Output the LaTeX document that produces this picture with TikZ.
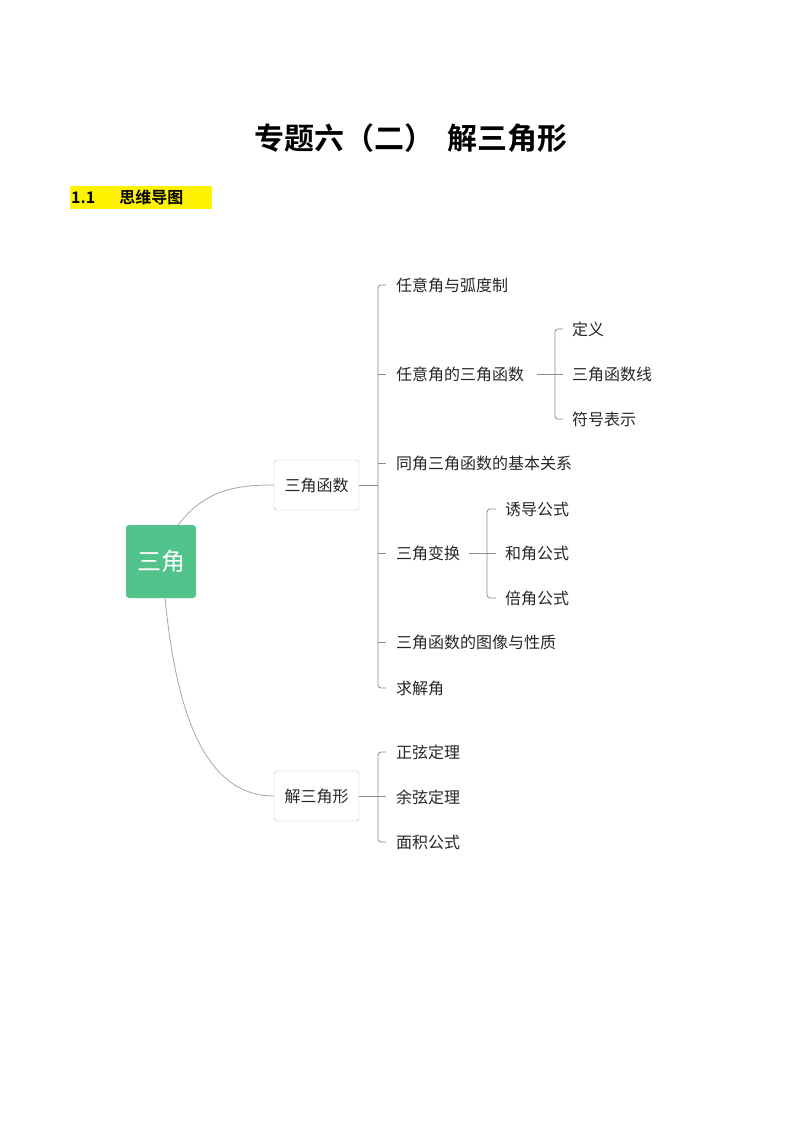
\documentclass[tikz,border=0pt]{standalone}
\usepackage{fontspec}
\setmainfont{Noto Sans CJK SC}
\newfontfamily\cjkb{Noto Sans CJK SC Bold}
\begin{document}
\begin{tikzpicture}[x=1pt,y=-1pt,
  leaf/.style={anchor=west,inner sep=0pt,font=\fontsize{16}{18}\selectfont,text=black!85},
  box/.style={draw=black!28,rounded corners=3pt,minimum width=85pt,minimum height=50pt,font=\fontsize{16}{18}\selectfont,text=black!85},
  ln/.style={draw=black!45,line width=0.8pt},
  br/.style={ln,rounded corners=3pt}]
\useasboundingbox (0,0) rectangle (794,1123);
\node[font=\cjkb\fontsize{30}{32}\selectfont] (title) at (411,138) {专题六（二）\hspace{14pt}解三角形};
\fill[yellow] (70,186) rectangle (212,209);
\node[anchor=west,font=\cjkb\fontsize{16}{17}\selectfont,inner sep=0pt] (sec) at (71,197.5) {1.1\hspace{24pt}思维导图};
\node[fill={rgb,255:red,82;green,195;blue,139},rounded corners=3pt,minimum width=70pt,minimum height=73pt,text=white,font=\fontsize{24}{26}\selectfont] (root) at (161,561.5) {三角};
\node[box] (sj) at (316.5,485) {三角函数};
\node[box] (jsjx) at (316.5,796) {解三角形};
\draw[ln,draw=black!35] (178,525) .. controls (205,490) and (235,485) .. (sj.west);
\draw[ln,draw=black!35] (165,598) .. controls (175,700) and (200,796) .. (jsjx.west);
\node[leaf] (a1) at (396,285) {任意角与弧度制};
\node[leaf] (a2) at (396,374) {任意角的三角函数};
\node[leaf] (a3) at (396,463) {同角三角函数的基本关系};
\node[leaf] (a4) at (396,553) {三角变换};
\node[leaf] (a5) at (396,642) {三角函数的图像与性质};
\node[leaf] (a6) at (396,688) {求解角};
\draw[ln] (sj.east) -- (378,485);
\draw[br] (386,285) -- (378,285) -- (378,688) -- (386,688);
\foreach \n in {a2,a3,a4,a5} \draw[ln] (378,0 |- \n.west) -- (386,0 |- \n.west);
\node[leaf] (b1) at (572,329) {定义};
\node[leaf] (b2) at (572,374) {三角函数线};
\node[leaf] (b3) at (572,419) {符号表示};
\draw[ln] (537,374) -- (563,374);
\draw[br] (563,329) -- (555,329) -- (555,419) -- (563,419);
\node[leaf] (c1) at (505,509) {诱导公式};
\node[leaf] (c2) at (505,553) {和角公式};
\node[leaf] (c3) at (505,598) {倍角公式};
\draw[ln] (469,553) -- (496,553);
\draw[br] (496,509) -- (487,509) -- (487,598) -- (496,598);
\node[leaf] (d1) at (396,752) {正弦定理};
\node[leaf] (d2) at (396,797) {余弦定理};
\node[leaf] (d3) at (396,842) {面积公式};
\draw[ln] (jsjx.east) -- (386,796);
\draw[br] (386,752) -- (378,752) -- (378,842) -- (386,842);
\end{tikzpicture}
\end{document}
